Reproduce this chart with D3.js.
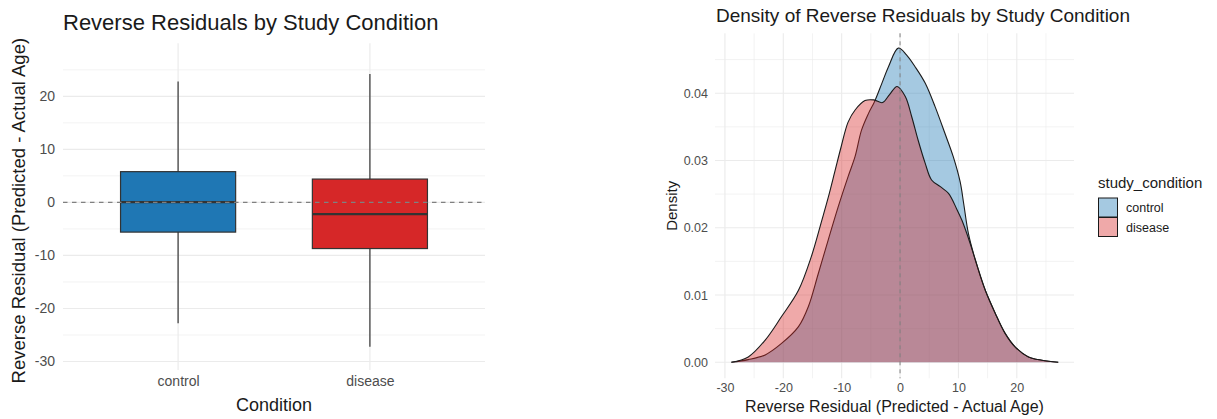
<!DOCTYPE html>
<html><head><meta charset="utf-8">
<script src="https://cdn.jsdelivr.net/npm/d3@7"></script>
<style>body{margin:0;background:#fff}svg{display:block;font-family:"Liberation Sans",Arial,sans-serif}</style>
</head><body>
<svg id="c" width="1217" height="419"></svg>
<script>
// ---- data ----
const categories = ["control", "disease"];
const boxLow    = [-22.8, -27.2];
const boxQ1     = [-5.6, -8.7];
const boxMedian = [0.05, -2.2];
const boxQ3     = [5.8, 4.4];
const boxHigh   = [22.8, 24.2];
const boxColors = ["#1f77b4", "#d62728"];
const leftYTicks = [-30, -20, -10, 0, 10, 20];
const leftYMinor = [-25, -15, -5, 5, 15, 25];

const controlX = [-28.9,-26.0,-23.1,-20.3,-17.4,-15.7,-14.0,-12.3,-10.6,-8.9,-7.7,-6.6,-5.4,-4.4,-3.1,-2.0,-0.3,1.1,2.6,4.3,6.0,7.7,9.1,10.3,10.9,11.7,12.9,14.6,16.3,18.0,19.7,22.0,24.3,27.1];
const controlY = [0,0.0004,0.0011,0.0028,0.0053,0.0083,0.0132,0.0182,0.0231,0.0276,0.0306,0.0345,0.037,0.0387,0.0415,0.0439,0.0467,0.0457,0.0439,0.0415,0.038,0.034,0.0306,0.0268,0.0236,0.0192,0.0152,0.0107,0.0073,0.0043,0.0023,0.0008,0.0003,0];
const diseaseX = [-28.9,-26.0,-23.1,-20.3,-17.4,-15.2,-13.4,-12.3,-11.1,-10.1,-8.9,-7.7,-6.0,-4.5,-3.0,-1.8,-0.5,0.9,2.0,3.1,4.3,5.4,6.9,8.3,9.7,10.6,12.0,12.9,14.6,16.3,18.0,19.7,22.0,24.3,27.1];
const diseaseY = [0,0.0008,0.0033,0.0068,0.0107,0.0157,0.0211,0.0245,0.0286,0.032,0.0357,0.0375,0.0389,0.039,0.0386,0.0398,0.041,0.0395,0.0365,0.033,0.0296,0.0271,0.0261,0.0251,0.0228,0.0211,0.0177,0.0152,0.0107,0.0073,0.0043,0.0023,0.0008,0.0003,0];
const rightXTicks = [-30, -20, -10, 0, 10, 20];
const rightXMinor = [-25, -15, -5, 5, 15, 25];
const rightYTicks = [0, 0.01, 0.02, 0.03, 0.04];
const rightYMinor = [0.005, 0.015, 0.025, 0.035, 0.045];

const svg = d3.select("#c");
const GRID = "#ebebeb", TICKC = "#4d4d4d", INK = "#1a1a1a";
const FF = "Liberation Sans, Arial, sans-serif";

// ================= LEFT: boxplot =================
const L = {l:63, r:485, t:43.3, b:370};
const xL = d3.scalePoint().domain(categories).range([L.l, L.r]).padding(0.6);
const yL = d3.scaleLinear().domain([-31.6, 30]).range([L.b, L.t]);
const gL = svg.append("g");
gL.selectAll(".mn").data(leftYMinor).join("line")
  .attr("x1",L.l).attr("x2",L.r).attr("y1",d=>yL(d)).attr("y2",d=>yL(d))
  .attr("stroke",GRID).attr("stroke-width",0.6);
gL.selectAll(".mj").data(leftYTicks).join("line")
  .attr("x1",L.l).attr("x2",L.r).attr("y1",d=>yL(d)).attr("y2",d=>yL(d))
  .attr("stroke",GRID).attr("stroke-width",1.2);
gL.selectAll(".vx").data(categories).join("line")
  .attr("x1",d=>xL(d)).attr("x2",d=>xL(d)).attr("y1",L.t).attr("y2",L.b)
  .attr("stroke",GRID).attr("stroke-width",1.2);
const yAxL = d3.axisLeft(yL).tickValues(leftYTicks).tickSize(0).tickPadding(0).tickFormat(d=>String(d));
const ga = gL.append("g").attr("transform",`translate(${L.l-8},0)`).call(yAxL);
ga.select(".domain").remove();
ga.selectAll("text").attr("fill",TICKC).attr("font-size",14).attr("font-family",FF);
const xAxL = d3.axisBottom(xL).tickSize(0).tickPadding(0);
const gx = gL.append("g").attr("transform",`translate(0,${L.b+6})`).call(xAxL);
gx.select(".domain").remove();
gx.selectAll("text").attr("fill",TICKC).attr("font-size",14).attr("font-family",FF);

const step = xL.step(), bw = step*0.6;
const boxes = categories.map((c,i)=>({c,i}));
gL.selectAll(".wh").data(boxes).join("line")
  .attr("x1",d=>xL(d.c)).attr("x2",d=>xL(d.c))
  .attr("y1",d=>yL(boxHigh[d.i])).attr("y2",d=>yL(boxLow[d.i]))
  .attr("stroke","#333").attr("stroke-width",1.2);
gL.selectAll(".bx").data(boxes).join("rect")
  .attr("x",d=>xL(d.c)-bw/2).attr("width",bw)
  .attr("y",d=>yL(boxQ3[d.i])).attr("height",d=>yL(boxQ1[d.i])-yL(boxQ3[d.i]))
  .attr("fill",d=>boxColors[d.i]).attr("stroke","#333").attr("stroke-width",1.2);
gL.selectAll(".md").data(boxes).join("line")
  .attr("x1",d=>xL(d.c)-bw/2).attr("x2",d=>xL(d.c)+bw/2)
  .attr("y1",d=>yL(boxMedian[d.i])).attr("y2",d=>yL(boxMedian[d.i]))
  .attr("stroke","#333").attr("stroke-width",2.3);
gL.append("line").attr("x1",L.l).attr("x2",L.r).attr("y1",yL(0)).attr("y2",yL(0))
  .attr("stroke","#808080").attr("stroke-width",1.2).attr("stroke-dasharray","4.5,4.5");
svg.append("text").attr("x",L.l).attr("y",30).attr("font-size",22).attr("fill",INK)
  .text("Reverse Residuals by Study Condition");
svg.append("text").attr("x",(L.l+L.r)/2).attr("y",411).attr("text-anchor","middle")
  .attr("font-size",18).attr("fill",INK).text("Condition");
svg.append("text").attr("transform",`translate(25,${(L.t+L.b)/2+4}) rotate(-90)`)
  .attr("text-anchor","middle").attr("font-size",18.5).attr("fill",INK)
  .text("Reverse Residual (Predicted - Actual Age)");

// ================= RIGHT: density =================
const R = {l:715, r:1074, t:33.3, b:378.3};
const xR = d3.scaleLinear().domain([-31.7, 29.8]).range([R.l, R.r]);
const yR = d3.scaleLinear().domain([-0.00238, 0.0489]).range([R.b, R.t]);
const gR = svg.append("g");
gR.selectAll(".xm").data(rightXMinor).join("line")
  .attr("x1",d=>xR(d)).attr("x2",d=>xR(d)).attr("y1",R.t).attr("y2",R.b)
  .attr("stroke",GRID).attr("stroke-width",0.6);
gR.selectAll(".ym").data(rightYMinor).join("line")
  .attr("x1",R.l).attr("x2",R.r).attr("y1",d=>yR(d)).attr("y2",d=>yR(d))
  .attr("stroke",GRID).attr("stroke-width",0.6);
gR.selectAll(".xM").data(rightXTicks).join("line")
  .attr("x1",d=>xR(d)).attr("x2",d=>xR(d)).attr("y1",R.t).attr("y2",R.b)
  .attr("stroke",GRID).attr("stroke-width",1.1);
gR.selectAll(".yM").data(rightYTicks).join("line")
  .attr("x1",R.l).attr("x2",R.r).attr("y1",d=>yR(d)).attr("y2",d=>yR(d))
  .attr("stroke",GRID).attr("stroke-width",1.1);
const yAxR = d3.axisLeft(yR).tickValues(rightYTicks).tickSize(0).tickPadding(0).tickFormat(d3.format(".2f"));
const gya = gR.append("g").attr("transform",`translate(${R.l-7},0)`).call(yAxR);
gya.select(".domain").remove();
gya.selectAll("text").attr("fill",TICKC).attr("font-size",12.5).attr("font-family",FF);
const xAxR = d3.axisBottom(xR).tickValues(rightXTicks).tickSize(0).tickPadding(0).tickFormat(d=>String(d));
const gxa = gR.append("g").attr("transform",`translate(0,${R.b+5})`).call(xAxR);
gxa.select(".domain").remove();
gxa.selectAll("text").attr("fill",TICKC).attr("font-size",12.5).attr("font-family",FF);

const area = d3.area().x(d=>xR(d[0])).y0(yR(0)).y1(d=>yR(d[1])).curve(d3.curveCatmullRom.alpha(0.5));
const line = d3.line().x(d=>xR(d[0])).y(d=>yR(d[1])).curve(d3.curveCatmullRom.alpha(0.5));
const series = [
  {name:"control", pts:d3.zip(controlX, controlY), col:boxColors[0]},
  {name:"disease", pts:d3.zip(diseaseX, diseaseY), col:boxColors[1]}
];
series.forEach(s=>{
  gR.append("path").attr("d",area(s.pts)).attr("fill",s.col).attr("fill-opacity",0.4);
  gR.append("path").attr("d",line(s.pts)).attr("fill","none").attr("stroke",INK).attr("stroke-width",1.1);
});
gR.append("line").attr("x1",xR(0)).attr("x2",xR(0)).attr("y1",R.t).attr("y2",R.b)
  .attr("stroke","#808080").attr("stroke-width",1).attr("stroke-dasharray","4,4");

svg.append("text").attr("x",716).attr("y",21.5).attr("font-size",19).attr("fill",INK)
  .text("Density of Reverse Residuals by Study Condition");
svg.append("text").attr("x",(R.l+R.r)/2).attr("y",412).attr("text-anchor","middle")
  .attr("font-size",16).attr("fill",INK).text("Reverse Residual (Predicted - Actual Age)");
svg.append("text").attr("transform",`translate(677,${(R.t+R.b)/2}) rotate(-90)`)
  .attr("text-anchor","middle").attr("font-size",15).attr("fill",INK).text("Density");

// legend
const lg = svg.append("g").attr("transform","translate(1098,0)");
lg.append("text").attr("x",0).attr("y",188).attr("font-size",15).attr("fill",INK).text("study_condition");
series.forEach((s,i)=>{
  const y0 = 198 + i*19.5;
  lg.append("rect").attr("x",0.5).attr("y",y0).attr("width",19).attr("height",19)
    .attr("fill",s.col).attr("fill-opacity",0.4).attr("stroke",INK).attr("stroke-width",1);
  lg.append("text").attr("x",28).attr("y",y0+14).attr("font-size",12.5).attr("fill",INK).text(s.name);
});
</script>
</body></html>
